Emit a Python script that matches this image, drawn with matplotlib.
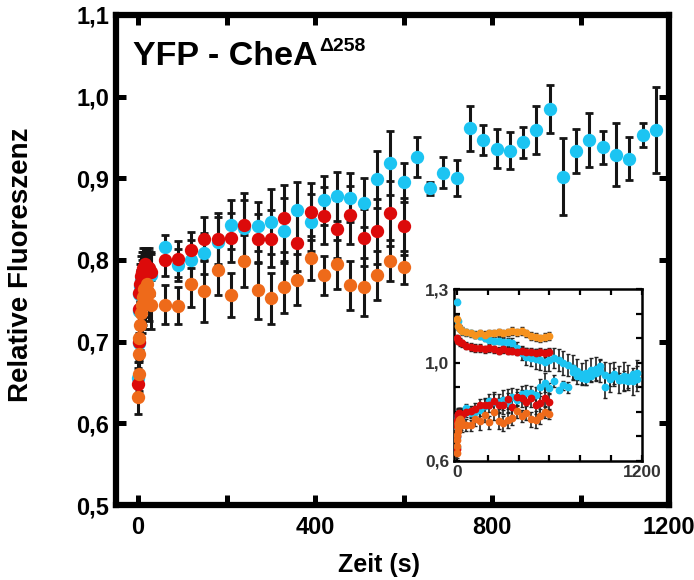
import numpy as np
import matplotlib
matplotlib.use('Agg')
import matplotlib.pyplot as plt
from matplotlib.ticker import FuncFormatter, MultipleLocator

plt.rcParams['font.family'] = ['Liberation Sans', 'DejaVu Sans']
plt.rcParams['font.weight'] = 'bold'
plt.rcParams['axes.labelweight'] = 'bold'

# Zeitpunkte (s): dichte Messung am Anfang, dann alle 30 s
t_frueh = [0, 1, 2, 3, 4, 6, 8, 10, 13, 16, 20, 25, 30]
t_spaet = [60, 90, 120, 150, 180, 210, 240, 270, 300, 330, 360, 390, 420, 450,
           480, 510, 540, 570, 600]
t_cyan_ext = [630, 660, 690, 720, 750, 780, 810, 840, 870, 900, 930, 960, 990,
              1020, 1050, 1080, 1110, 1140, 1170]

# Hauptdiagramm (relative Fluoreszenz)
cyan_frueh = [0.655, 0.698, 0.738, 0.758, 0.768, 0.775, 0.78, 0.785, 0.782, 0.79, 0.785, 0.786, 0.782]
cyan_spaet = [0.816, 0.794, 0.800, 0.808, 0.822, 0.843, 0.839, 0.841, 0.847, 0.836,
              0.861, 0.846, 0.873, 0.878, 0.876, 0.870, 0.899, 0.919, 0.895]
cyan_ext = [0.926, 0.888, 0.907, 0.900, 0.961, 0.947, 0.936, 0.934, 0.944, 0.959,
            0.985, 0.902, 0.933, 0.947, 0.938, 0.929, 0.924, 0.953, 0.959]
rot_frueh = [0.648, 0.700, 0.740, 0.760, 0.770, 0.780, 0.785, 0.790, 0.785, 0.795, 0.790, 0.790, 0.785]
rot_spaet = [0.800, 0.801, 0.812, 0.826, 0.826, 0.827, 0.843, 0.826, 0.826, 0.851,
             0.821, 0.859, 0.854, 0.838, 0.855, 0.827, 0.835, 0.857, 0.841]
orange_frueh = [0.632, 0.660, 0.685, 0.705, 0.720, 0.735, 0.745, 0.755, 0.765, 0.750, 0.770, 0.760, 0.745]
orange_spaet = [0.745, 0.744, 0.771, 0.762, 0.788, 0.757, 0.799, 0.763, 0.753, 0.767,
                0.776, 0.802, 0.781, 0.795, 0.769, 0.767, 0.781, 0.799, 0.791]

# Fehler (Standardabweichung)
cyan_err_frueh = [0.02, 0.02, 0.02, 0.02, 0.02, 0.02, 0.02, 0.025, 0.025, 0.025, 0.025, 0.025, 0.025]
cyan_err_spaet = [0.015, 0.02, 0.025, 0.025, 0.03, 0.03, 0.035, 0.03, 0.04, 0.04,
                  0.035, 0.035, 0.03, 0.03, 0.03, 0.03, 0.035, 0.039, 0.024]
cyan_err_ext = [0.024, 0.008, 0.019, 0.022, 0.028, 0.018, 0.024, 0.023, 0.019, 0.029,
                0.029, 0.047, 0.027, 0.033, 0.020, 0.039, 0.026, 0.015, 0.053]
rot_err_frueh = [0.02, 0.02, 0.02, 0.02, 0.025, 0.025, 0.025, 0.025, 0.025, 0.02, 0.025, 0.025, 0.025]
rot_err_spaet = [0.02, 0.022, 0.022, 0.027, 0.031, 0.03, 0.039, 0.03, 0.035, 0.041,
                 0.035, 0.035, 0.035, 0.035, 0.035, 0.035, 0.04, 0.04, 0.035]
orange_err_frueh = [0.02, 0.02, 0.025, 0.03, 0.03, 0.035, 0.035, 0.035, 0.035, 0.035, 0.03, 0.035, 0.03]
orange_err_spaet = [0.024, 0.023, 0.029, 0.038, 0.031, 0.027, 0.032, 0.035, 0.031, 0.032,
                    0.031, 0.027, 0.024, 0.03, 0.03, 0.035, 0.03, 0.025, 0.02]

# Inset: obere Kurven (Donor-Kanal)
t_oben = [0, 10, 20, 30, 60, 90, 120, 150, 180, 210, 240, 270, 300, 330, 360, 390,
          420, 450, 480, 510, 540, 570, 600]
orange_oben = [1.18, 1.15, 1.14, 1.13, 1.125, 1.12, 1.115, 1.12, 1.115, 1.12, 1.12, 1.125,
               1.12, 1.125, 1.13, 1.125, 1.13, 1.12, 1.11, 1.105, 1.10, 1.105, 1.11]
rot_oben = [1.10, 1.09, 1.085, 1.08, 1.07, 1.065, 1.06, 1.06, 1.055, 1.06, 1.055, 1.05,
            1.055, 1.05, 1.05, 1.045, 1.05, 1.045, 1.045, 1.04, 1.045, 1.04, 1.045]
t_cyan_oben = t_oben + t_cyan_ext
cyan_oben = [1.25, 1.17, 1.14, 1.13, 1.125, 1.12, 1.115, 1.11, 1.10, 1.095, 1.09, 1.09,
             1.085, 1.085, 1.08, 1.06, 1.04, 1.025, 1.02, 1.015, 1.01, 1.005, 1.01,
             1.02, 1.01, 1.0, 0.99, 0.98, 0.965, 0.955, 0.96, 0.97, 0.975, 0.965,
             0.95, 0.94, 0.955, 0.93, 0.945, 0.94, 0.925, 0.935]
cyan_oben_err = [0.01, 0.01, 0.01, 0.01, 0.01, 0.01, 0.012, 0.012, 0.012, 0.012, 0.015, 0.015,
                 0.015, 0.015, 0.02, 0.025, 0.03, 0.035, 0.035, 0.04, 0.04, 0.04, 0.045,
                 0.04, 0.045, 0.05, 0.045, 0.05, 0.05, 0.045, 0.05, 0.05, 0.05, 0.045,
                 0.055, 0.06, 0.05, 0.055, 0.06, 0.05, 0.055, 0.05]
oben_err = [0.015] * len(t_oben)

farbe_cyan = '#1CC4F2'
farbe_rot = '#DC0A0A'
farbe_orange = '#EE6A1A'
farbe_orange_hell = '#F6921E'

t_cyan = t_frueh + t_spaet + t_cyan_ext
cyan = cyan_frueh + cyan_spaet + cyan_ext
cyan_err = cyan_err_frueh + cyan_err_spaet + cyan_err_ext
t_ro = t_frueh + t_spaet
rot = rot_frueh + rot_spaet
rot_err = rot_err_frueh + rot_err_spaet
orange = orange_frueh + orange_spaet
orange_err = orange_err_frueh + orange_err_spaet

fig = plt.figure(figsize=(6.94, 5.8), dpi=100)
ax = fig.add_axes([0.1671, 0.1293, 0.797, 0.845])

serien = [(t_cyan, cyan, cyan_err, farbe_cyan),
          (t_ro, rot, rot_err, farbe_rot),
          (t_ro, orange, orange_err, farbe_orange)]
for t, v, e, c in serien:
    ax.errorbar(t, v, yerr=e, fmt='none', ecolor='#151515', elinewidth=2.2,
                capsize=2.6, capthick=2, zorder=2)
for t, v, e, c in serien:
    ax.plot(t, v, 'o', ms=9.6, color=c, mec='none', zorder=3)

ax.set_xlim(-50, 1200)
ax.set_ylim(0.5, 1.1)
ax.set_xticks([0, 400, 800, 1200])
ax.xaxis.set_minor_locator(MultipleLocator(200))
ax.set_yticks(np.arange(0.5, 1.101, 0.1))
ax.yaxis.set_major_formatter(FuncFormatter(lambda v, p: f"{v:.1f}".replace('.', ',')))
ax.tick_params(which='both', direction='in', length=7, width=3.6, top=True, right=True)
ax.tick_params(which='major', labelsize=17)
ax.tick_params(axis='x', pad=8)
ax.tick_params(axis='y', pad=5)
for s in ax.spines.values():
    s.set_linewidth(4.5)

ax.set_xlabel('Zeit (s)', fontsize=18)
ax.set_ylabel('Relative Fluoreszenz', fontsize=20)
ax.xaxis.set_label_coords(0.475, -0.097)
ax.yaxis.set_label_coords(-0.148, 0.49)

ax.text(0.031, 0.898, 'YFP - CheA', transform=ax.transAxes, fontsize=24.5,
        fontweight='bold', va='baseline')
ax.text(0.368, 0.926, 'Δ258', transform=ax.transAxes, fontsize=14,
        fontweight='bold', va='baseline')

# Inset
axi = fig.add_axes([0.6535, 0.206, 0.2716, 0.295])
serien_in = [(t_cyan_oben, cyan_oben, cyan_oben_err, farbe_cyan),
             (t_cyan, cyan, cyan_err, farbe_cyan),
             (t_oben, rot_oben, oben_err, farbe_rot),
             (t_ro, rot, rot_err, farbe_rot),
             (t_oben, orange_oben, oben_err, farbe_orange_hell),
             (t_ro, orange, orange_err, farbe_orange)]
for t, v, e, c in serien_in:
    axi.errorbar(t, v, yerr=e, fmt='none', ecolor='#222222', elinewidth=1.2,
                 capsize=1.3, capthick=1, zorder=2)
for t, v, e, c in serien_in:
    axi.plot(t, v, 'o', ms=5.6, color=c, mec='none', zorder=3)

axi.set_xlim(-22, 1200)
axi.set_ylim(0.6, 1.3)
axi.set_xticks(range(0, 1201, 200))
axi.set_xticklabels(['0', '', '', '', '', '', '1200'])
y_in = np.round(np.arange(0.6, 1.301, 0.1), 1)
axi.set_yticks(y_in)
axi.set_yticklabels([f"{v:.1f}".replace('.', ',') if v in (0.6, 1.0, 1.3) else '' for v in y_in])
axi.tick_params(direction='in', length=4, width=1.6, top=True, right=True,
                labelsize=12.5, labelcolor='#333333', pad=3)
for s in axi.spines.values():
    s.set_linewidth(1.8)

fig.savefig('out.png', dpi=100)
